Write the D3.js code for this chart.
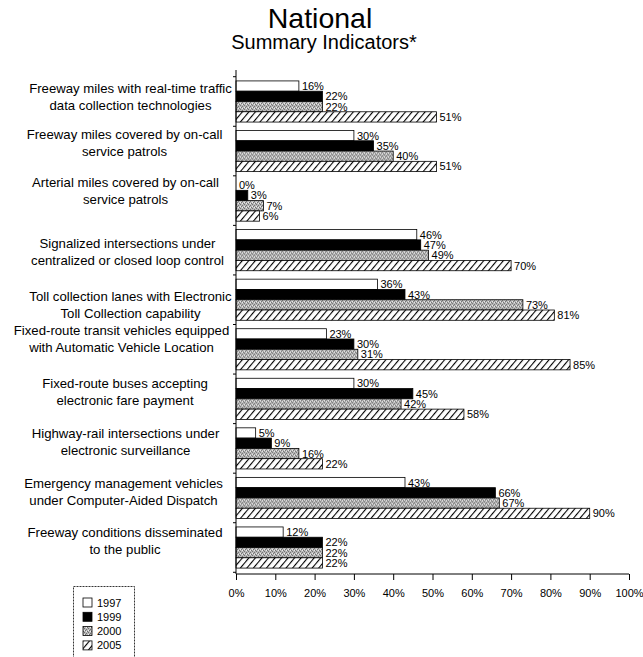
<!DOCTYPE html>
<html>
<head>
<meta charset="utf-8">
<script src="https://cdn.jsdelivr.net/npm/d3@7"></script>
<style>
  body { margin: 0; background: #fff; }
  svg { display: block; font-family: "Liberation Sans", Arial, sans-serif; }
  text { fill: #000; }
</style>
</head>
<body>
<svg id="chart" width="643" height="657"></svg>
<script>
// ---- data ----
const categories = [
  "Freeway miles with real-time traffic|data collection technologies",
  "Freeway miles covered by on-call|service patrols",
  "Arterial miles covered by on-call|service patrols",
  "Signalized intersections under|centralized or closed loop control",
  "Toll collection lanes with Electronic|Toll Collection capability",
  "Fixed-route transit vehicles equipped|with Automatic Vehicle Location",
  "Fixed-route buses accepting|electronic fare payment",
  "Highway-rail intersections under|electronic surveillance",
  "Emergency management vehicles|under Computer-Aided Dispatch",
  "Freeway conditions disseminated|to the public"
];
const seriesNames = ["1997", "1999", "2000", "2005"];
const v1997 = [16, 30, 0, 46, 36, 23, 30, 5, 43, 12];
const v1999 = [22, 35, 3, 47, 43, 30, 45, 9, 66, 22];
const v2000 = [22, 40, 7, 49, 73, 31, 42, 16, 67, 22];
const v2005 = [51, 51, 6, 70, 81, 85, 58, 22, 90, 22];
const tickValues = [0, 10, 20, 30, 40, 50, 60, 70, 80, 90, 100];
const titleText = "National";
const subtitleText = "Summary Indicators*";

// ---- layout ----
const seriesValues = [v1997, v1999, v2000, v2005];
const labelDy = [-12, -16, -18, -6, -3, -18, -15, -14, -14, -15];
const labelCx = [130.5, 124.5, 125.5, 127.5, 130.5, 121.5, 125, 125.5, 123.5, 125];
const svg = d3.select("#chart");
const x = d3.scaleLinear().domain([0, 100]).range([236, 629]);
const y = d3.scaleBand().domain(d3.range(categories.length)).range([72, 577]).paddingInner(0.17).paddingOuter(0.18);
const ySub = d3.scaleBand().domain(d3.range(seriesNames.length)).range([0, y.bandwidth()]);

// patterns
const defs = svg.append("defs");
const stip = defs.append("pattern").attr("id", "p2000").attr("patternUnits", "userSpaceOnUse")
  .attr("width", 4).attr("height", 4);
stip.append("rect").attr("width", 4).attr("height", 4).attr("fill", "#b8b8b8");
[[0,0],[2,1],[1,2],[3,3]].forEach(([a,b]) => stip.append("rect").attr("x", a).attr("y", b).attr("width", 1).attr("height", 1).attr("fill", "#6e6e6e"));
[[2,3],[0,2]].forEach(([a,b]) => stip.append("rect").attr("x", a).attr("y", b).attr("width", 1).attr("height", 1).attr("fill", "#eeeeee"));
const hatch = defs.append("pattern").attr("id", "p2005").attr("patternUnits", "userSpaceOnUse")
  .attr("width", 5).attr("height", 5).attr("patternTransform", "rotate(40)");
hatch.append("rect").attr("width", 5).attr("height", 5).attr("fill", "#fff");
hatch.append("line").attr("x1", 0).attr("y1", 0).attr("x2", 0).attr("y2", 5).attr("stroke", "#000").attr("stroke-width", 2.2);

const fills = ["#fff", "#000", "url(#p2000)", "url(#p2005)"];

// title
svg.append("text").attr("x", 320).attr("y", 28).attr("text-anchor", "middle").attr("font-size", 28.5).attr("fill", "#000").text(titleText);
svg.append("text").attr("x", 324).attr("y", 49).attr("text-anchor", "middle").attr("font-size", 20).attr("fill", "#000").text(subtitleText);

// bars
const groups = svg.append("g").selectAll("g").data(categories).join("g")
  .attr("transform", (d, i) => `translate(0,${y(i)})`);
seriesValues.forEach((vals, s) => {
  groups.append("rect")
    .attr("x", x(0))
    .attr("y", ySub(s))
    .attr("width", (d, i) => x(vals[i]) - x(0))
    .attr("height", ySub.bandwidth())
    .attr("fill", fills[s])
    .attr("stroke", "#000")
    .attr("stroke-width", 0.8);
  groups.append("text")
    .attr("x", (d, i) => x(vals[i]) + 3)
    .attr("y", ySub(s) + ySub.bandwidth() / 2 + 4)
    .attr("font-size", 11)
    .attr("fill", "#000")
    .text((d, i) => vals[i] + "%");
});

// category labels
const lab = svg.append("g").selectAll("text").data(categories).join("text")
  .attr("text-anchor", "middle")
  .attr("font-size", 13.2)
  .attr("fill", "#000")
  .attr("transform", (d, i) => `translate(${labelCx[i]},${y(i) + y.bandwidth() / 2 + labelDy[i]})`);
lab.each(function(d) {
  const parts = d.split("|");
  const t = d3.select(this);
  parts.forEach((p, k) => t.append("tspan").attr("x", 0).attr("y", k * 17 + 4).text(p));
});

// axes
const axisY = 574;
svg.append("line").attr("x1", x(0)).attr("x2", x(0)).attr("y1", 70).attr("y2", axisY).attr("stroke", "#000");
const bound = i => i < categories.length ? y(i) - (y.step() - y.bandwidth()) / 2
  : y(categories.length - 1) + y.bandwidth() + (y.step() - y.bandwidth()) / 2;
svg.append("g").selectAll("line").data(d3.range(categories.length + 1)).join("line")
  .attr("x1", x(0) - 3).attr("x2", x(0))
  .attr("y1", bound).attr("y2", bound)
  .attr("stroke", "#000");
const xAxis = d3.axisBottom(x).tickValues(tickValues).tickFormat(d => d + "%").tickSize(6).tickPadding(9);
const gx = svg.append("g").attr("transform", `translate(0,${axisY})`).call(xAxis);
gx.select(".domain").attr("d", `M${x(0)},0H${x(100)}`).attr("stroke", "#000");
gx.selectAll("text").attr("font-size", 11).attr("fill", "#000").attr("font-family", "Liberation Sans, Arial, sans-serif");

// legend
const lg = svg.append("g");
lg.append("rect").attr("x", 73.5).attr("y", 586.5).attr("width", 61).attr("height", 80)
  .attr("fill", "#fff").attr("stroke", "#000").attr("stroke-dasharray", "2,1").attr("stroke-width", 0.8);
seriesNames.forEach((s, k) => {
  const yy = 598 + k * 14.3;
  lg.append("rect").attr("x", 83).attr("y", yy).attr("width", 9).attr("height", 9)
    .attr("fill", fills[k]).attr("stroke", "#000").attr("stroke-width", 0.8);
  lg.append("text").attr("x", 97).attr("y", yy + 8.5).attr("font-size", 11).attr("fill", "#000").text(s);
});
</script>
</body>
</html>
